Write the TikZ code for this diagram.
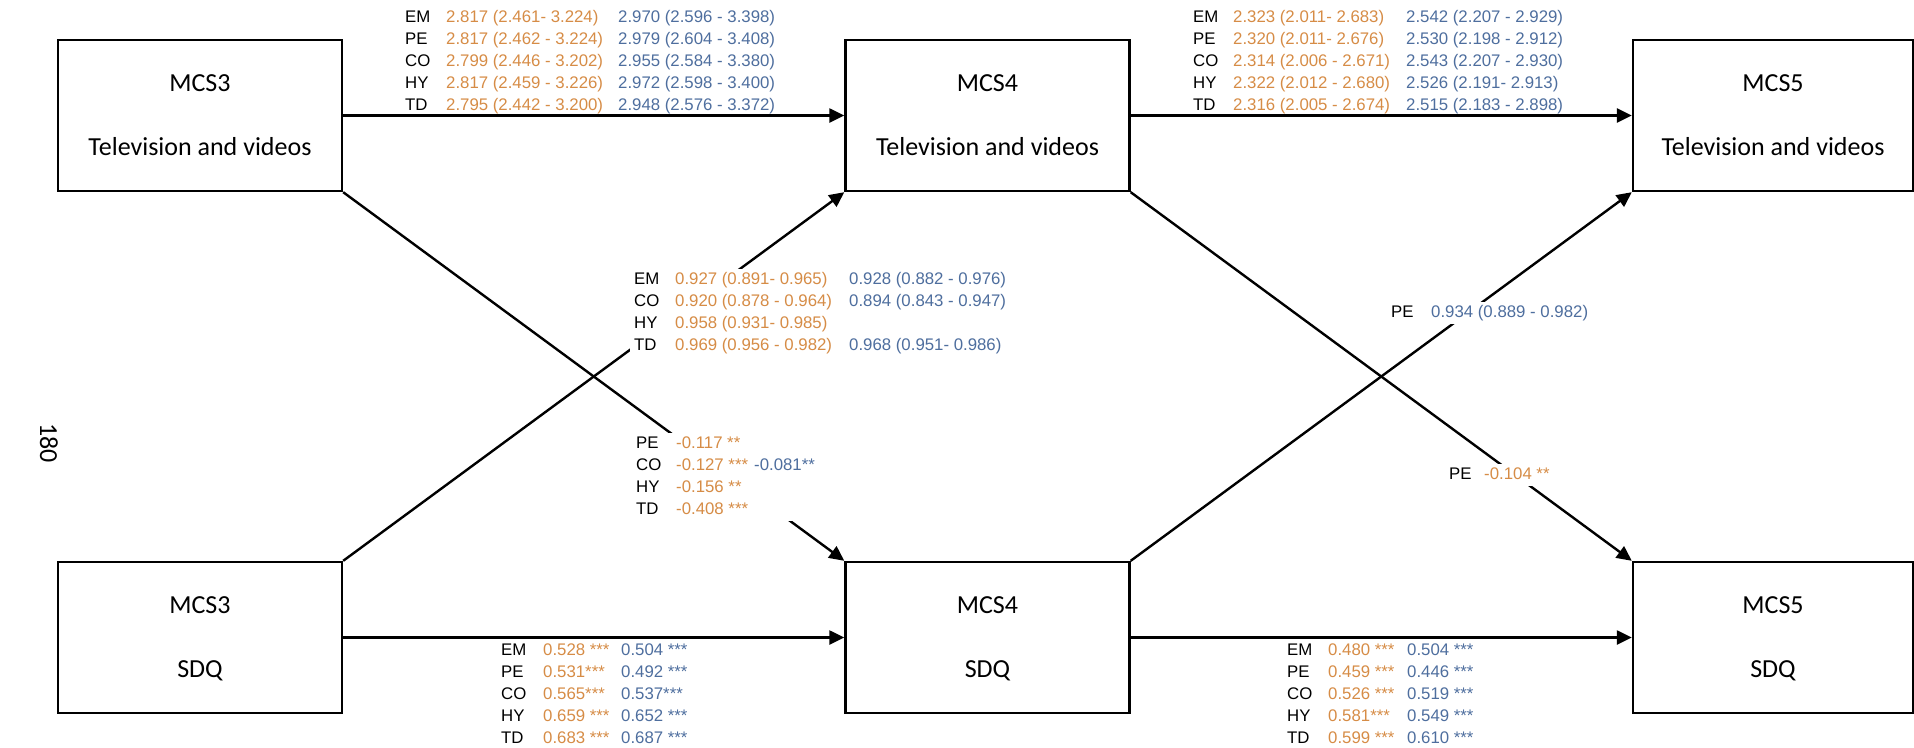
\documentclass[tikz,border=0pt]{standalone}
\usepackage{fontspec}
\usetikzlibrary{arrows.meta}
\newfontfamily\boxfont{Carlito}
\newfontfamily\lblfont{Liberation Sans}
\definecolor{estorange}{RGB}{214,140,70}
\definecolor{estblue}{RGB}{78,110,158}
\newcommand\og[1]{\textcolor{estorange}{#1}}
\newcommand\bl[1]{\textcolor{estblue}{#1}}
% keep the depth of the Q out of the vertical centring
\newcommand\flatword[1]{\raisebox{0pt}[\height][0pt]{#1}}

\begin{document}
\begin{tikzpicture}[x=1pt,y=-1pt,
  wave/.style={draw, line width=2.4pt, minimum width=284pt, minimum height=151pt,
    inner sep=0pt, align=center, font=\boxfont\fontsize{26}{32}\selectfont},
  link/.style={line width=2.4pt, -{Triangle[length=15pt,width=14pt]}},
  est/.style={anchor=base west, inner xsep=4pt, inner ysep=0pt,
    font=\lblfont\fontsize{16.8}{22}\selectfont},
  estw/.style={est, fill=white}]
\useasboundingbox (0,0) rectangle (1914,747);

% survey waves: screen time (top) and SDQ (bottom)
\node[wave] (tv3) at (200,115.5) {MCS3\\[32pt]Television and videos};
\node[wave] (tv4) at (987.5,115.5) {MCS4\\[32pt]Television and videos};
\node[wave, minimum width=280pt] (tv5) at (1773,115.5) {MCS5\\[32pt]Television and videos};
\node[wave] (sdq3) at (200,637.5) {MCS3\\[32pt]\flatword{SDQ}};
\node[wave] (sdq4) at (987.5,637.5) {MCS4\\[32pt]\flatword{SDQ}};
\node[wave, minimum width=280pt] (sdq5) at (1773,637.5) {MCS5\\[32pt]\flatword{SDQ}};

% stability and cross-lagged paths
\draw[link] (tv3.east) -- (tv4.west);
\draw[link] (tv4.east) -- (tv5.west);
\draw[link] (sdq3.east) -- (sdq4.west);
\draw[link] (sdq4.east) -- (sdq5.west);
\draw[link] (tv3.south east) -- (sdq4.north west);
\draw[link] (sdq3.north east) -- (tv4.south west);
\draw[link] (tv4.south east) -- (sdq5.north west);
\draw[link] (sdq4.north east) -- (tv5.south west);

% estimates
\node[est] (estA) at (401,22) {\begin{tabular}[t]{@{}p{41pt}@{}p{172pt}@{}l@{}}
EM & \og{2.817 (2.461- 3.224)} & \bl{2.970 (2.596 - 3.398)}\\
PE & \og{2.817 (2.462 - 3.224)} & \bl{2.979 (2.604 - 3.408)}\\
CO & \og{2.799 (2.446 - 3.202)} & \bl{2.955 (2.584 - 3.380)}\\
HY & \og{2.817 (2.459 - 3.226)} & \bl{2.972 (2.598 - 3.400)}\\
TD & \og{2.795 (2.442 - 3.200)} & \bl{2.948 (2.576 - 3.372)}
\end{tabular}};

\node[est] (estB) at (1189,22) {\begin{tabular}[t]{@{}p{40pt}@{}p{173pt}@{}l@{}}
EM & \og{2.323 (2.011- 2.683)} & \bl{2.542 (2.207 - 2.929)}\\
PE & \og{2.320 (2.011- 2.676)} & \bl{2.530 (2.198 - 2.912)}\\
CO & \og{2.314 (2.006 - 2.671)} & \bl{2.543 (2.207 - 2.930)}\\
HY & \og{2.322 (2.012 - 2.680)} & \bl{2.526 (2.191- 2.913)}\\
TD & \og{2.316 (2.005 - 2.674)} & \bl{2.515 (2.183 - 2.898)}
\end{tabular}};

\node[estw] (estC) at (630,284) {\begin{tabular}[t]{@{}p{41pt}@{}p{174pt}@{}l@{}}
EM & \og{0.927 (0.891- 0.965)} & \bl{0.928 (0.882 - 0.976)}\\
CO & \og{0.920 (0.878 - 0.964)} & \bl{0.894 (0.843 - 0.947)}\\
HY & \og{0.958 (0.931- 0.985)} & \\
TD & \og{0.969 (0.956 - 0.982)} & \bl{0.968 (0.951- 0.986)}
\end{tabular}};

\node[estw] (estD) at (632,448) {\begin{tabular}[t]{@{}p{40pt}@{}p{78pt}@{}l@{}}
PE & \og{-0.117 **} & \\
CO & \og{-0.127 ***} & \bl{-0.081**}\\
HY & \og{-0.156 **} & \\
TD & \og{-0.408 ***} &
\end{tabular}};

\node[estw] (estE) at (1387,317) {\begin{tabular}[t]{@{}p{40pt}@{}l@{}}
PE & \bl{0.934 (0.889 - 0.982)}
\end{tabular}};

\node[estw] (estF) at (1445,479) {\begin{tabular}[t]{@{}p{35pt}@{}l@{}}
PE & \og{-0.104 **}
\end{tabular}};

\node[est] (estG) at (497,655) {\begin{tabular}[t]{@{}p{42pt}@{}p{78pt}@{}l@{}}
EM & \og{0.528 ***} & \bl{0.504 ***}\\
PE & \og{0.531***} & \bl{0.492 ***}\\
CO & \og{0.565***} & \bl{0.537***}\\
HY & \og{0.659 ***} & \bl{0.652 ***}\\
TD & \og{0.683 ***} & \bl{0.687 ***}
\end{tabular}};

\node[est] (estH) at (1283,655) {\begin{tabular}[t]{@{}p{41pt}@{}p{79pt}@{}l@{}}
EM & \og{0.480 ***} & \bl{0.504 ***}\\
PE & \og{0.459 ***} & \bl{0.446 ***}\\
CO & \og{0.526 ***} & \bl{0.519 ***}\\
HY & \og{0.581***} & \bl{0.549 ***}\\
TD & \og{0.599 ***} & \bl{0.610 ***}
\end{tabular}};

% page number
\node[rotate=-90, font=\boxfont\fontsize{26}{32}\selectfont] (pagenum) at (49,443) {180};
\end{tikzpicture}
\end{document}
